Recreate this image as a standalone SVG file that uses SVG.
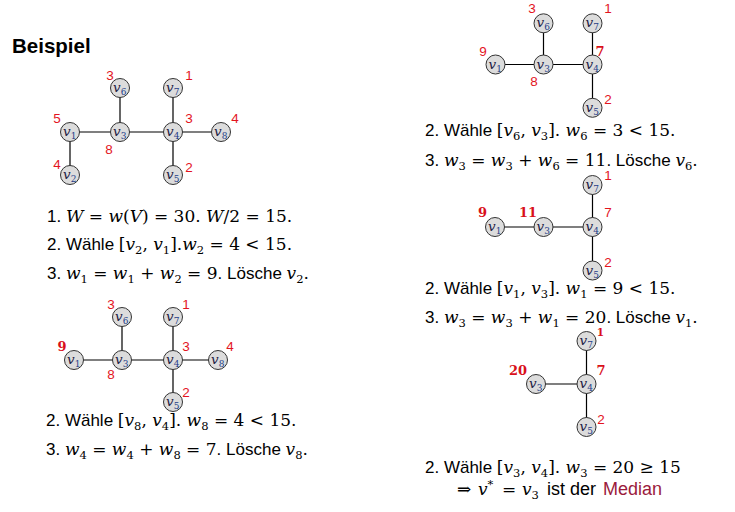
<svg xmlns="http://www.w3.org/2000/svg" width="735" height="512" viewBox="0 0 735 512">
<style>
.n{fill:#dcdcdc;stroke:#333;stroke-width:1}
.nl{font-family:"DejaVu Serif",serif;font-style:italic;font-size:13.5px;fill:#1c1c44}
.ns{font-size:9px;font-style:normal;fill:#1f3c88}
.e{stroke:#000;stroke-width:1.2;fill:none}
.w{font-family:"Liberation Sans",Arial,sans-serif;font-size:13.5px;fill:#e3141e;text-anchor:middle}
.wb{font-family:"DejaVu Serif",serif;font-weight:bold;font-size:13px;fill:#d9101a;text-anchor:middle}
.t{font-family:"Liberation Sans",Arial,sans-serif;font-size:17px;fill:#000}
.m{font-family:"DejaVu Serif",serif;font-size:17px}
.i{font-style:italic}
.s{font-size:11.5px}
.h{font-family:"Liberation Sans",Arial,sans-serif;font-size:20.5px;font-weight:bold;fill:#000}
</style>
<rect width="735" height="512" fill="#fff"/>
<text class="h" x="12" y="53">Beispiel</text>

<g id="edges">
<path class="e" d="M70 132V175M70 132H120M120 132V88M120 132H173M173 132V88M173 132H221M173 132V175"/>
<path class="e" d="M74 360H122M122 360V317M122 360H173M173 360V317M173 360H218M173 360V402"/>
<path class="e" d="M495.5 64.5H543.5M543.5 64.5V23.3M543.5 64.5H592.5M592.5 64.5V23.3M592.5 64.5V107.8"/>
<path class="e" d="M495 227H543.5M543.5 227H592.5M592.5 227V185M592.5 227V271"/>
<path class="e" d="M536 384H586.5M586.5 384V341M586.5 384V427"/>
</g>

<g id="g1-v1"><circle class="n" cx="70" cy="132" r="9.5"/><text class="nl" x="63" y="136">v<tspan class="ns" dy="3">1</tspan></text></g>
<g id="g1-v2"><circle class="n" cx="70" cy="175" r="9.5"/><text class="nl" x="63" y="179">v<tspan class="ns" dy="3">2</tspan></text></g>
<g id="g1-v3"><circle class="n" cx="120" cy="132" r="9.5"/><text class="nl" x="113" y="136">v<tspan class="ns" dy="3">3</tspan></text></g>
<g id="g1-v4"><circle class="n" cx="173" cy="132" r="9.5"/><text class="nl" x="166" y="136">v<tspan class="ns" dy="3">4</tspan></text></g>
<g id="g1-v5"><circle class="n" cx="173" cy="175" r="9.5"/><text class="nl" x="166" y="179">v<tspan class="ns" dy="3">5</tspan></text></g>
<g id="g1-v6"><circle class="n" cx="120" cy="88" r="9.5"/><text class="nl" x="113" y="92">v<tspan class="ns" dy="3">6</tspan></text></g>
<g id="g1-v7"><circle class="n" cx="173" cy="88" r="9.5"/><text class="nl" x="166" y="92">v<tspan class="ns" dy="3">7</tspan></text></g>
<g id="g1-v8"><circle class="n" cx="221" cy="132" r="9.5"/><text class="nl" x="214" y="136">v<tspan class="ns" dy="3">8</tspan></text></g>
<g id="g1-weights">
<text class="w" x="110" y="80">3</text><text class="w" x="189" y="80">1</text>
<text class="w" x="57" y="123">5</text><text class="w" x="189" y="123">3</text><text class="w" x="235" y="123">4</text>
<text class="w" x="109" y="154">8</text><text class="w" x="57" y="169">4</text><text class="w" x="189" y="172">2</text>
</g>

<g id="g2-v1"><circle class="n" cx="74" cy="360" r="9.5"/><text class="nl" x="67" y="364">v<tspan class="ns" dy="3">1</tspan></text></g>
<g id="g2-v3"><circle class="n" cx="122" cy="360" r="9.5"/><text class="nl" x="115" y="364">v<tspan class="ns" dy="3">3</tspan></text></g>
<g id="g2-v4"><circle class="n" cx="173" cy="360" r="9.5"/><text class="nl" x="166" y="364">v<tspan class="ns" dy="3">4</tspan></text></g>
<g id="g2-v5"><circle class="n" cx="173" cy="402" r="9.5"/><text class="nl" x="166" y="406">v<tspan class="ns" dy="3">5</tspan></text></g>
<g id="g2-v6"><circle class="n" cx="122" cy="317" r="9.5"/><text class="nl" x="115" y="321">v<tspan class="ns" dy="3">6</tspan></text></g>
<g id="g2-v7"><circle class="n" cx="173" cy="317" r="9.5"/><text class="nl" x="166" y="321">v<tspan class="ns" dy="3">7</tspan></text></g>
<g id="g2-v8"><circle class="n" cx="218" cy="360" r="9.5"/><text class="nl" x="211" y="364">v<tspan class="ns" dy="3">8</tspan></text></g>
<g id="g2-weights">
<text class="w" x="111" y="309">3</text><text class="w" x="186" y="309">1</text>
<text class="wb" x="62" y="351">9</text><text class="w" x="186" y="351">3</text><text class="w" x="230" y="351">4</text>
<text class="w" x="111" y="379">8</text><text class="w" x="186" y="397">2</text>
</g>

<g id="g3-v1"><circle class="n" cx="495.5" cy="64.5" r="9.5"/><text class="nl" x="488.5" y="68.5">v<tspan class="ns" dy="3">1</tspan></text></g>
<g id="g3-v3"><circle class="n" cx="543.5" cy="64.5" r="9.5"/><text class="nl" x="536.5" y="68.5">v<tspan class="ns" dy="3">3</tspan></text></g>
<g id="g3-v4"><circle class="n" cx="592.5" cy="64.5" r="9.5"/><text class="nl" x="585.5" y="68.5">v<tspan class="ns" dy="3">4</tspan></text></g>
<g id="g3-v5"><circle class="n" cx="592.5" cy="107.8" r="9.5"/><text class="nl" x="585.5" y="111.8">v<tspan class="ns" dy="3">5</tspan></text></g>
<g id="g3-v6"><circle class="n" cx="543.5" cy="23.3" r="9.5"/><text class="nl" x="536.5" y="27.3">v<tspan class="ns" dy="3">6</tspan></text></g>
<g id="g3-v7"><circle class="n" cx="592.5" cy="23.3" r="9.5"/><text class="nl" x="585.5" y="27.3">v<tspan class="ns" dy="3">7</tspan></text></g>
<g id="g3-weights">
<text class="w" x="532" y="12.7">3</text><text class="w" x="608" y="12.7">1</text>
<text class="w" x="483" y="56">9</text><text class="wb" x="600" y="56">7</text>
<text class="w" x="534" y="86">8</text><text class="w" x="608" y="104">2</text>
</g>

<g id="g4-v1"><circle class="n" cx="495" cy="227" r="9.5"/><text class="nl" x="488" y="231">v<tspan class="ns" dy="3">1</tspan></text></g>
<g id="g4-v3"><circle class="n" cx="543.5" cy="227" r="9.5"/><text class="nl" x="536.5" y="231">v<tspan class="ns" dy="3">3</tspan></text></g>
<g id="g4-v4"><circle class="n" cx="592.5" cy="227" r="9.5"/><text class="nl" x="585.5" y="231">v<tspan class="ns" dy="3">4</tspan></text></g>
<g id="g4-v5"><circle class="n" cx="592.5" cy="270.5" r="9.5"/><text class="nl" x="585.5" y="274.5">v<tspan class="ns" dy="3">5</tspan></text></g>
<g id="g4-v7"><circle class="n" cx="592.5" cy="185" r="9.5"/><text class="nl" x="585.5" y="189">v<tspan class="ns" dy="3">7</tspan></text></g>
<g id="g4-weights">
<text class="w" x="608" y="180">1</text>
<text class="wb" x="482.5" y="217.3">9</text><text class="wb" x="528" y="217.3">11</text><text class="w" x="608" y="217.3">7</text>
<text class="w" x="608" y="266.7">2</text>
</g>

<g id="g5-v3"><circle class="n" cx="536" cy="384" r="9.5"/><text class="nl" x="529" y="388">v<tspan class="ns" dy="3">3</tspan></text></g>
<g id="g5-v4"><circle class="n" cx="586.5" cy="384" r="9.5"/><text class="nl" x="579.5" y="388">v<tspan class="ns" dy="3">4</tspan></text></g>
<g id="g5-v5"><circle class="n" cx="586.5" cy="427" r="9.5"/><text class="nl" x="579.5" y="431">v<tspan class="ns" dy="3">5</tspan></text></g>
<g id="g5-v7"><circle class="n" cx="586.5" cy="341" r="9.5"/><text class="nl" x="579.5" y="345">v<tspan class="ns" dy="3">7</tspan></text></g>
<g id="g5-weights">
<text class="wb" x="600.5" y="335.5" style="font-size:10.5px">1</text>
<text class="wb" x="518" y="375">20</text><text class="wb" x="601" y="375">7</text>
<text class="w" x="601" y="424">2</text>
</g>

<text class="t" x="47" y="222" xml:space="preserve">1. <tspan class="m"><tspan class="i">W</tspan> = <tspan class="i">w</tspan>(<tspan class="i">V</tspan>) = 30. <tspan class="i">W</tspan>/2 = 15.</tspan></text>
<text class="t" x="47" y="250" xml:space="preserve">2. Wähle <tspan class="m">[<tspan class="i">v</tspan><tspan class="s" dy="4">2</tspan><tspan dy="-4">, </tspan><tspan class="i">v</tspan><tspan class="s" dy="4">1</tspan><tspan dy="-4">].</tspan><tspan class="i">w</tspan><tspan class="s" dy="4">2</tspan><tspan dy="-4"> = 4 &lt; 15.</tspan></tspan></text>
<text class="t" x="47" y="279" xml:space="preserve">3. <tspan class="m"><tspan class="i">w</tspan><tspan class="s" dy="4">1</tspan><tspan dy="-4"> = </tspan><tspan class="i">w</tspan><tspan class="s" dy="4">1</tspan><tspan dy="-4"> + </tspan><tspan class="i">w</tspan><tspan class="s" dy="4">2</tspan><tspan dy="-4"> = 9</tspan></tspan>. Lösche <tspan class="m"><tspan class="i">v</tspan><tspan class="s" dy="4">2</tspan><tspan dy="-4">.</tspan></tspan></text>

<text class="t" x="46" y="426" xml:space="preserve">2. Wähle <tspan class="m">[<tspan class="i">v</tspan><tspan class="s" dy="4">8</tspan><tspan dy="-4">, </tspan><tspan class="i">v</tspan><tspan class="s" dy="4">4</tspan><tspan dy="-4">]. </tspan><tspan class="i">w</tspan><tspan class="s" dy="4">8</tspan><tspan dy="-4"> = 4 &lt; 15.</tspan></tspan></text>
<text class="t" x="46" y="455" xml:space="preserve">3. <tspan class="m"><tspan class="i">w</tspan><tspan class="s" dy="4">4</tspan><tspan dy="-4"> = </tspan><tspan class="i">w</tspan><tspan class="s" dy="4">4</tspan><tspan dy="-4"> + </tspan><tspan class="i">w</tspan><tspan class="s" dy="4">8</tspan><tspan dy="-4"> = 7</tspan></tspan>. Lösche <tspan class="m"><tspan class="i">v</tspan><tspan class="s" dy="4">8</tspan><tspan dy="-4">.</tspan></tspan></text>

<text class="t" x="425" y="136" xml:space="preserve">2. Wähle <tspan class="m">[<tspan class="i">v</tspan><tspan class="s" dy="4">6</tspan><tspan dy="-4">, </tspan><tspan class="i">v</tspan><tspan class="s" dy="4">3</tspan><tspan dy="-4">]. </tspan><tspan class="i">w</tspan><tspan class="s" dy="4">6</tspan><tspan dy="-4"> = 3 &lt; 15.</tspan></tspan></text>
<text class="t" x="425" y="166" xml:space="preserve">3. <tspan class="m"><tspan class="i">w</tspan><tspan class="s" dy="4">3</tspan><tspan dy="-4"> = </tspan><tspan class="i">w</tspan><tspan class="s" dy="4">3</tspan><tspan dy="-4"> + </tspan><tspan class="i">w</tspan><tspan class="s" dy="4">6</tspan><tspan dy="-4"> = 11</tspan></tspan>. Lösche <tspan class="m"><tspan class="i">v</tspan><tspan class="s" dy="4">6</tspan><tspan dy="-4">.</tspan></tspan></text>

<text class="t" x="425" y="294" xml:space="preserve">2. Wähle <tspan class="m">[<tspan class="i">v</tspan><tspan class="s" dy="4">1</tspan><tspan dy="-4">, </tspan><tspan class="i">v</tspan><tspan class="s" dy="4">3</tspan><tspan dy="-4">]. </tspan><tspan class="i">w</tspan><tspan class="s" dy="4">1</tspan><tspan dy="-4"> = 9 &lt; 15.</tspan></tspan></text>
<text class="t" x="425" y="323" xml:space="preserve">3. <tspan class="m"><tspan class="i">w</tspan><tspan class="s" dy="4">3</tspan><tspan dy="-4"> = </tspan><tspan class="i">w</tspan><tspan class="s" dy="4">3</tspan><tspan dy="-4"> + </tspan><tspan class="i">w</tspan><tspan class="s" dy="4">1</tspan><tspan dy="-4"> = 20</tspan></tspan>. Lösche <tspan class="m"><tspan class="i">v</tspan><tspan class="s" dy="4">1</tspan><tspan dy="-4">.</tspan></tspan></text>

<text class="t" x="425" y="473" xml:space="preserve">2. Wähle <tspan class="m">[<tspan class="i">v</tspan><tspan class="s" dy="4">3</tspan><tspan dy="-4">, </tspan><tspan class="i">v</tspan><tspan class="s" dy="4">4</tspan><tspan dy="-4">]. </tspan><tspan class="i">w</tspan><tspan class="s" dy="4">3</tspan><tspan dy="-4"> = 20 ≥ 15</tspan></tspan></text>
<text class="t" x="457" y="495" style="font-size:18px" xml:space="preserve"><tspan class="m">⇒<tspan class="i" x="478">v</tspan><tspan class="s" dy="-7">*</tspan><tspan x="502" dy="7">=</tspan><tspan class="i" x="522">v</tspan><tspan class="s" dy="4">3</tspan></tspan><tspan x="547" dy="-4">ist der</tspan><tspan x="603" fill="#9b1b3c">Median</tspan></text>
</svg>
